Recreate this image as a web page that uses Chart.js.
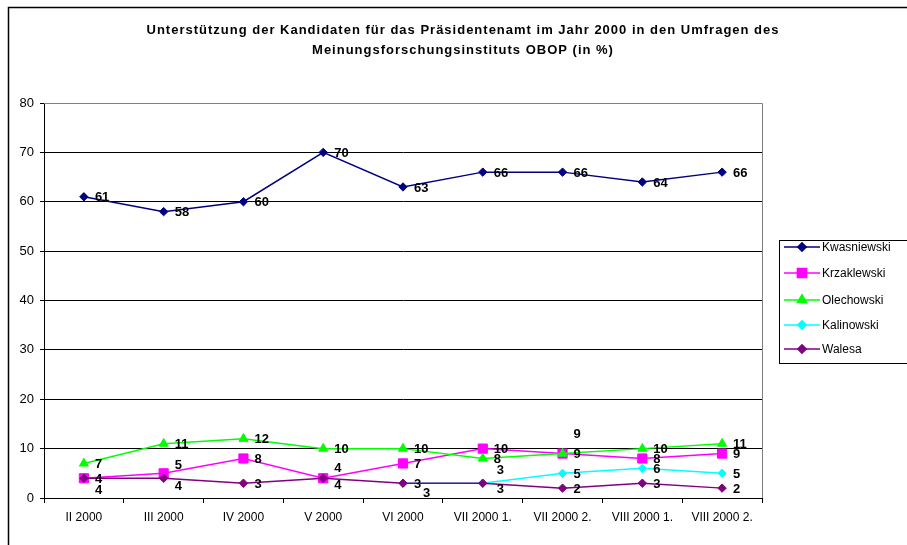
<!DOCTYPE html>
<html><head><meta charset="utf-8">
<script src="https://cdn.jsdelivr.net/npm/chart.js@4"></script>
<style>html,body{margin:0;padding:0;background:#fff}canvas{display:block}</style>
</head><body><canvas id="c" width="907" height="545"></canvas>
<script>
// ---- data ----
const titleLines = ['Unterstützung der Kandidaten für das Präsidentenamt im Jahr 2000 in den Umfragen des', 'Meinungsforschungsinstituts OBOP (in %)'];
const categories = ['II 2000', 'III 2000', 'IV 2000', 'V 2000', 'VI 2000', 'VII 2000 1.', 'VII 2000 2.', 'VIII 2000 1.', 'VIII 2000 2.'];
const seriesNames = ['Kwasniewski', 'Krzaklewski', 'Olechowski', 'Kalinowski', 'Walesa'];
const kwasniewski = [61, 58, 60, 70, 63, 66, 66, 64, 66];
const krzaklewski = [4, 5, 8, 4, 7, 10, 9, 8, 9];
const olechowski = [7, 11, 12, 10, 10, 8, 9, 10, 11];
const kalinowski = [null, null, null, null, 3, 3, 5, 6, 5];
const walesa = [4, 4, 3, 4, 3, 3, 2, 3, 2];
const yMin = 0, yMax = 80, yStep = 10;

// ---- style ----
const FONT = 'Arial, "Liberation Sans", sans-serif';
const styles = [
  {color: '#000080', point: 'rectRot', radius: 4.2, order: 4},
  {color: '#FF00FF', point: 'rect', radius: 6.5, order: 3},
  {color: '#00FF00', point: 'triangle', radius: 5.2, order: 2},
  {color: '#00FFFF', point: 'rectRot', radius: 4.2, order: 1},
  {color: '#800080', point: 'rectRot', radius: 4.2, order: 0}
];
// label offsets (dx, dy) relative to default placement right of the point
const labelDy = [
  [0, 0, 0, 0, 0, 0, 0, 0, 0],
  [0, -9, 0, -11, 0, 0, 0, 0, 0],
  [0, 0, 0, 0, 0, 0, -20, 0, 0],
  [0, 0, 0, 0, 9, -14, 0, 0, 0],
  [11, 7, 0, 6, 0, 5, 0, 0, 0]
];
const labelDx = [
  [0, 0, 0, 0, 0, 0, 0, 0, 0],
  [0, 0, 0, 0, 0, 0, 0, 0, 0],
  [0, 0, 0, 0, 0, 0, 0, 0, 0],
  [0, 0, 0, 0, 9, 3, 0, 0, 0],
  [0, 0, 0, 0, 0, 3, 0, 0, 0]
];

const seriesData = [kwasniewski, krzaklewski, olechowski, kalinowski, walesa];

const datasets = seriesData.map((d, i) => ({
  label: seriesNames[i],
  data: d,
  borderColor: styles[i].color,
  backgroundColor: styles[i].color,
  pointBackgroundColor: styles[i].color,
  pointBorderColor: styles[i].color,
  pointStyle: styles[i].point,
  pointRadius: styles[i].radius,
  pointBorderWidth: 1,
  borderWidth: 1.5,
  tension: 0,
  spanGaps: false,
  order: styles[i].order
}));

const decor = {
  id: 'decor',
  beforeDraw(chart) {
    const ctx = chart.ctx;
    ctx.save();
    ctx.fillStyle = '#fff';
    ctx.fillRect(0, 0, chart.width, chart.height);
    ctx.strokeStyle = '#000';
    ctx.lineWidth = 1.5;
    ctx.beginPath();
    ctx.moveTo(8.5, chart.height + 5);
    ctx.lineTo(8.5, 7.5);
    ctx.lineTo(chart.width + 5, 7.5);
    ctx.stroke();
    ctx.restore();
  },
  afterDraw(chart) {
    const ctx = chart.ctx;
    const a = chart.chartArea;
    ctx.save();
    // plot area border (top & right, grey)
    ctx.strokeStyle = '#808080';
    ctx.lineWidth = 1;
    ctx.beginPath();
    ctx.moveTo(a.left, a.top + 0.5);
    ctx.lineTo(a.right + 0.5, a.top + 0.5);
    ctx.lineTo(a.right + 0.5, a.bottom);
    ctx.stroke();

    // title
    ctx.fillStyle = '#000';
    ctx.font = 'bold 13px ' + FONT;
    ctx.textAlign = 'center';
    ctx.textBaseline = 'middle';
    if ('letterSpacing' in ctx) ctx.letterSpacing = '1px';
    ctx.fillText(titleLines[0], 463, 30);
    ctx.fillText(titleLines[1], 463, 50);
    if ('letterSpacing' in ctx) ctx.letterSpacing = '0px';

    // data labels
    ctx.font = 'bold 13px ' + FONT;
    ctx.textAlign = 'left';
    ctx.textBaseline = 'middle';
    chart.data.datasets.forEach((ds, i) => {
      const meta = chart.getDatasetMeta(i);
      meta.data.forEach((pt, j) => {
        const v = ds.data[j];
        if (v === null || v === undefined) return;
        ctx.fillText(String(v), pt.x + 11 + labelDx[i][j], pt.y + 1 + labelDy[i][j]);
      });
    });

    // legend
    const lx = 779, ly = 240, lw = 140, lh = 123;
    ctx.strokeStyle = '#000';
    ctx.lineWidth = 1;
    ctx.strokeRect(lx + 0.5, ly + 0.5, lw, lh);
    const rows = [247, 273, 300, 325, 349];
    ctx.font = '12px ' + FONT;
    chart.data.datasets.forEach((ds, i) => {
      const y = rows[i];
      ctx.strokeStyle = ds.borderColor;
      ctx.lineWidth = 1.5;
      ctx.beginPath();
      ctx.moveTo(784, y);
      ctx.lineTo(820, y);
      ctx.stroke();
      ctx.fillStyle = ds.borderColor;
      Chart.helpers.drawPoint(ctx, {pointStyle: ds.pointStyle, radius: ds.pointRadius, borderWidth: 1, rotation: 0}, 802, y);
      ctx.fillStyle = '#000';
      ctx.fillText(ds.label, 822, y + 1);
    });
    ctx.restore();
  }
};

new Chart(document.getElementById('c'), {
  type: 'line',
  data: {labels: categories, datasets},
  options: {
    responsive: false,
    devicePixelRatio: 1,
    animation: false,
    layout: {padding: {left: 8, right: 145, top: 103, bottom: 0}},
    plugins: {legend: {display: false}, title: {display: false}, tooltip: {enabled: false}},
    scales: {
      x: {
        type: 'category',
        offset: true,
        grid: {offset: true, drawOnChartArea: false, drawTicks: true, tickLength: 5, color: '#000', lineWidth: 1},
        border: {color: '#000', width: 1},
        ticks: {color: '#000', font: {family: FONT, size: 12}, padding: 7, maxRotation: 0, autoSkip: false},
        afterFit(s) { s.height = 47; }
      },
      y: {
        min: yMin, max: yMax,
        grid: {
          color: (c) => (c.tick && c.tick.value === yMax) ? '#808080' : '#000',
          tickColor: '#000',
          drawTicks: true, tickLength: 4, lineWidth: 1
        },
        border: {color: '#000', width: 1},
        ticks: {stepSize: yStep, color: '#000', font: {family: FONT, size: 13}, padding: 6},
        afterFit(s) { s.width = 36; }
      }
    }
  },
  plugins: [decor]
});
</script>
</body></html>
